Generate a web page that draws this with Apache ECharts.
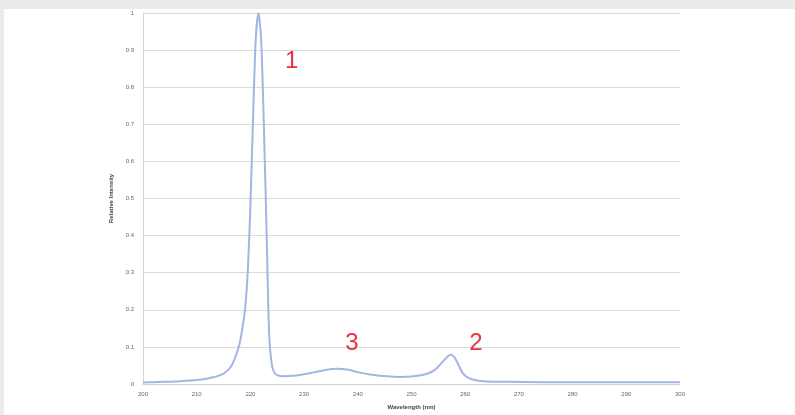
<!DOCTYPE html>
<html>
<head>
<meta charset="utf-8">
<script src="https://cdn.jsdelivr.net/npm/echarts@6/dist/echarts.min.js"></script>
<style>
html,body{margin:0;padding:0;background:#fff;}
#c{width:795px;height:415px;}
</style>
</head>
<body>
<div id="c"></div>
<script>
const wavelengths = [200,202,204,206,208,210,212,213,214,215,216,216.5,217,217.5,218,218.5,219,219.5,220,220.5,221,221.5,222,222.5,223,223.5,224,224.5,225,226,228,230,232,234,236,238,240,242,244,246,248,250,252,253.5,254.5,255.5,256.5,257.3,258,258.8,259.5,260.5,262,264,268,275,285,300];
const intensity = [0.004,0.005,0.006,0.007,0.009,0.011,0.015,0.018,0.022,0.028,0.040,0.050,0.065,0.085,0.110,0.150,0.200,0.300,0.480,0.720,0.930,1.000,0.930,0.700,0.420,0.130,0.050,0.030,0.024,0.021,0.022,0.026,0.032,0.038,0.041,0.039,0.032,0.026,0.022,0.020,0.019,0.020,0.024,0.031,0.040,0.055,0.071,0.079,0.072,0.050,0.030,0.017,0.010,0.007,0.006,0.005,0.005,0.005];
const yTicks = ['0','0.1','0.2','0.3','0.4','0.5','0.6','0.7','0.8','0.9','1'];
const peakLabels = [
  {name:'1', coord:[227.7, 0.869]},
  {name:'3', coord:[238.9, 0.11]},
  {name:'2', coord:[262.0, 0.11]}
];

const chart = echarts.init(document.getElementById('c'), null, {renderer:'canvas'});
chart.setOption({
  animation:false,
  backgroundColor:'#ffffff',
  graphic:[
    {type:'rect', shape:{x:0,y:0,width:795,height:9}, style:{fill:'#ebebeb'}, z:-1},
    {type:'rect', shape:{x:0,y:0,width:4,height:415}, style:{fill:'#ebebeb'}, z:-1}
  ],
  grid:{left:143, right:115, top:13, bottom:28},
  xAxis:{
    type:'value', min:200, max:300, interval:10,
    name:'Wavelength (nm)', nameLocation:'middle', nameGap:20,
    nameTextStyle:{fontSize:6, fontWeight:'bold', color:'#444', fontFamily:'Liberation Sans'},
    axisLine:{show:true, lineStyle:{color:'#d0d0d0'}},
    axisTick:{show:false},
    axisLabel:{fontSize:6, color:'#666', margin:7, fontFamily:'Liberation Sans'},
    splitLine:{show:false}
  },
  yAxis:{
    type:'value', min:0, max:1, interval:0.1,
    name:'Relative Intensity', nameLocation:'middle', nameGap:27,
    nameTextStyle:{fontSize:6, fontWeight:'bold', color:'#444', fontFamily:'Liberation Sans'},
    axisLine:{show:true, lineStyle:{color:'#d0d5e0'}},
    axisTick:{show:false},
    axisLabel:{fontSize:6, color:'#666', margin:9, fontFamily:'Liberation Sans',
      formatter:function(v){ return yTicks[Math.round(v*10)]; }},
    splitLine:{show:true, lineStyle:{color:'#dadada', width:1}}
  },
  series:[{
    type:'line',
    data:wavelengths.map((w,i)=>[w,intensity[i]]),
    showSymbol:false,
    smooth:0.25,
    lineStyle:{color:'#a3b5e2', width:2},
    markPoint:{
      symbol:'circle', symbolSize:0,
      label:{show:true, position:'inside', formatter:'{b}', color:'#e8303e', fontSize:24, fontFamily:'Liberation Sans'},
      data:peakLabels.map(p=>({name:p.name, coord:p.coord}))
    }
  }]
});
</script>
</body>
</html>
